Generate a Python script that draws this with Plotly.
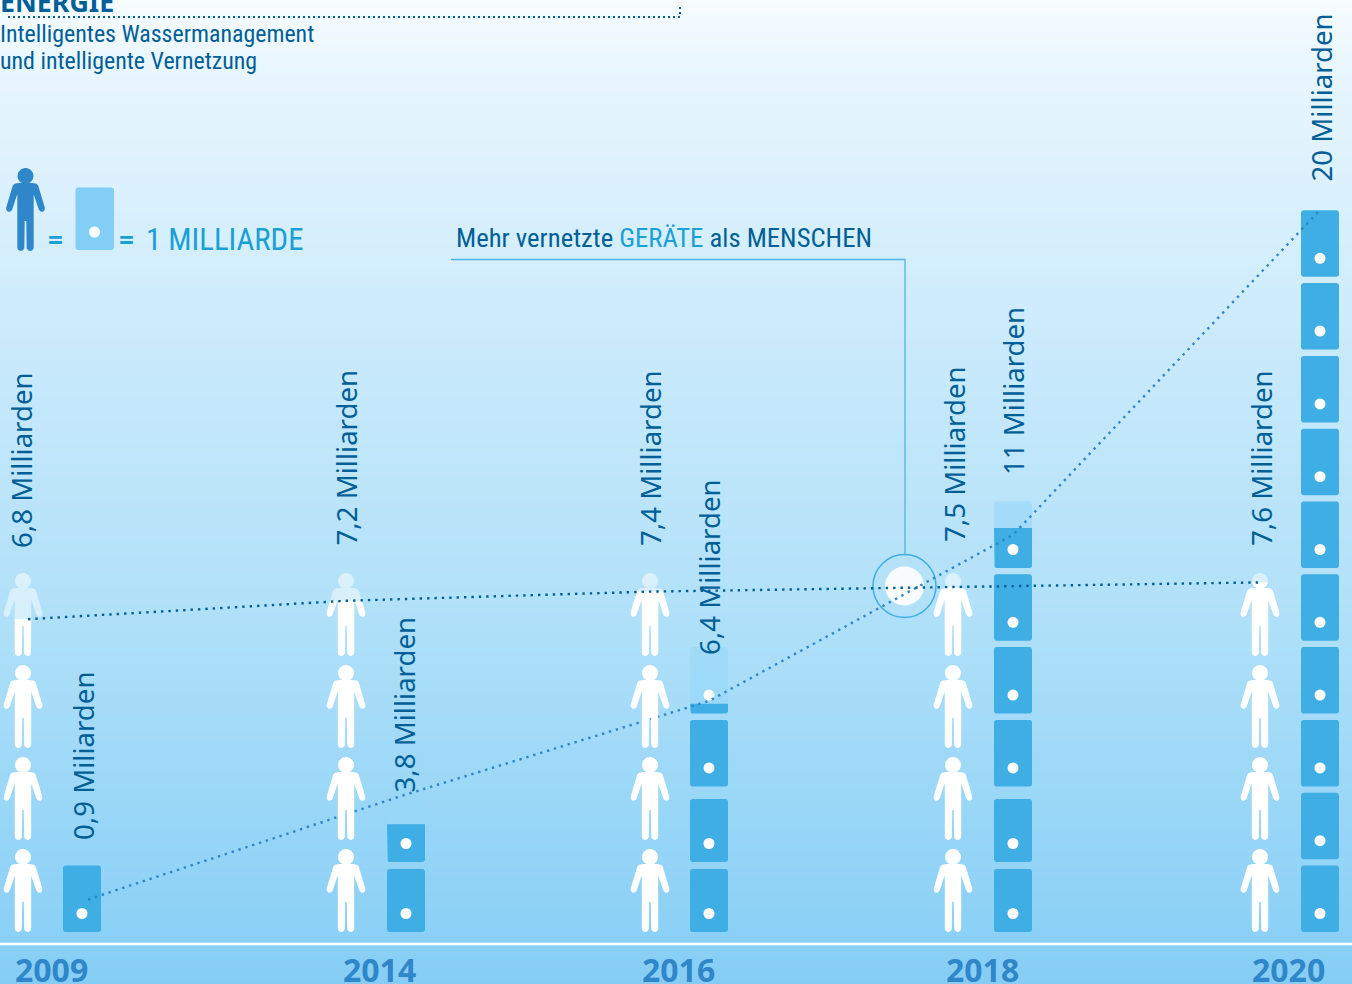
import math
import numpy as np
import plotly.graph_objects as go

# Data
years = ["2009", "2014", "2016", "2018", "2020"]
people_bn = [6.8, 7.2, 7.4, 7.5, 7.6]
devices_bn = [0.9, 3.8, 6.4, 11, 20]
people_labels = ["6,8 Milliarden", "7,2 Milliarden", "7,4 Milliarden", "7,5 Milliarden", "7,6 Milliarden"]
device_labels = ["0,9 Miliarden", "3,8 Milliarden", "6,4 Milliarden", "11 Milliarden", "20 Milliarden"]
top_icon_fill = [1.0, 0.6, 0.15, 0.6, 1.0]
compact_base = [False, True, True, True, False]

# Page geometry
W, H = 1352, 984
BASE = 932
PEOPLE_SCALE = 46.0
DEVICE_SCALE = 36.1
PERSON_PITCH = 92
DEVICE_PITCH = 72.8
PEOPLE_PER_COLUMN = 4
person_x = [23, 346, 650, 953, 1260]
device_x = [82, 406, 709, 1013, 1320]
people_line_x = [28, 346, 650, 953, 1260]
device_line_x = [88, 405, 709, 1013, 1320]
people_label_x = [21, 345.5, 650, 954, 1261]
people_label_bottom = [548, 546, 546, 542, 546]
device_label_x = [83, 403.5, 709, 1013, 1320.5]
device_label_bottom = [840, 793, 655, 475, 182]
year_x = [51, 379, 678, 982, 1288]

DARK = "#005f97"
MID = "#2f86c9"
CYAN = "#1a9fd6"
DEVICE = "#3eaee4"
FONT_WIDE = "Noto Sans"
FONT_NARROW = "Roboto Condensed"


def person_outline():
    """Body outline and head of the person icon, in px from the icon's top centre."""
    half = [(0, 15), (7, 15), (11, 15.8), (12.7, 17.5), (19.3, 39.5), (19.2, 42), (17.5, 43.7), (15, 43.5),
            (13.3, 41.5), (9.2, 29), (8.2, 26.5), (8.2, 79.5), (7.6, 81.5), (5.5, 83), (3, 82.5), (1.2, 80.5),
            (0.8, 53), (0, 53)]
    body = half + [(-x, y) for x, y in reversed(half)]
    head = [(8 * math.cos(a), 8 + 8 * math.sin(a)) for a in np.linspace(0, 2 * math.pi, 32)]
    return body, head


def clip_below(poly, limit):
    """Keep the part of a polygon whose height above the baseline is at most limit."""
    out = []
    for (ax, ay), (bx, by) in zip(poly, poly[1:] + poly[:1]):
        if ay <= limit:
            out.append((ax, ay))
        if (ay <= limit) != (by <= limit):
            t = (limit - ay) / (by - ay)
            out.append((ax + t * (bx - ax), limit))
    return out


def append_poly(xs, ys, poly, scale=1.0):
    for x, y in poly:
        xs.append(x)
        ys.append(y / scale)
    xs.append(poly[0][0])
    ys.append(poly[0][1] / scale)
    xs.append(None)
    ys.append(None)


def placed_person(cx, bottom):
    """Person polygons in (x, px above baseline)."""
    body, head = person_outline()
    return [[(cx + x, bottom + 83 - y) for x, y in part] for part in (body, head)]


def round_rect(x0, x1, y0, y1, r=2.5):
    pts = []
    corners = [(x1 - r, y1 - r, 0), (x0 + r, y1 - r, 90), (x0 + r, y0 + r, 180), (x1 - r, y0 + r, 270)]
    for cx, cy, start in corners:
        for a in np.linspace(start, start + 90, 5):
            pts.append((cx + r * math.cos(math.radians(a)), cy + r * math.sin(math.radians(a))))
    return pts


def device_spans(col):
    """Lower and upper edge of each device icon, in px above the baseline."""
    count = math.ceil(devices_bn[col] / 2)
    spans = []
    for i in range(count):
        if compact_base[col] and i < 2:
            low = i * 70
            spans.append((low, low + 63))
        else:
            low = i * DEVICE_PITCH
            spans.append((low, low + 66.5))
    return spans


fig = go.Figure()

# Background gradient on the pixel axis
grad_y = np.linspace(0, H, 124)
fig.add_trace(go.Heatmap(
    x=[0, W], y=grad_y, z=[[v, v] for v in grad_y], zmin=0, zmax=H, zsmooth="best",
    colorscale=[[0, "#f7fcff"], [0.07, "#e8f6fe"], [0.376, "#c7e9fb"], [0.61, "#b2e1f9"],
                [0.955, "#8ad0f6"], [1, "#86cdf5"]],
    showscale=False, hoverinfo="skip", xaxis="x", yaxis="y"))


def decor(**kw):
    fig.add_trace(go.Scatter(hoverinfo="skip", showlegend=False, xaxis="x", yaxis="y", **kw))


# Baseline band and rule
decor(x=[0, W], y=[944, 944], mode="lines", line=dict(color="white", width=2.5))

# Dotted header rule
decor(x=[8, 680, 680], y=[17, 17, 4], mode="lines", line=dict(color=DARK, width=2, dash="2px,3px"))

# Legend icons
lx, ly = [], []
for part in placed_person(25.5, 0):
    append_poly(lx, ly, [(x, 251 - y) for x, y in part])
decor(x=lx, y=ly, mode="lines", fill="toself", fillcolor=MID, line=dict(width=0))
rx, ry = [], []
append_poly(rx, ry, round_rect(75.5, 114, 187.5, 250))
decor(x=rx, y=ry, mode="lines", fill="toself", fillcolor="#82cef6", line=dict(width=0))
decor(x=[94.5], y=[232], mode="markers", marker=dict(color="white", size=11))

# Callout at the crossing of the two curves
decor(x=[904.5], y=[586], mode="markers", marker=dict(color="rgba(255,255,255,0.9)", size=39))
decor(x=[904.5], y=[586], mode="markers",
      marker=dict(color="rgba(0,0,0,0)", size=63, line=dict(color="#3eaee4", width=1.5)))
decor(x=[451, 905, 905], y=[259.5, 259.5, 554], mode="lines", line=dict(color="#4fb4e6", width=1.3))

# Device stacks
solid_x, solid_y, faded_x, faded_y, dot_x, dot_y = [], [], [], [], [], []
for col, cx in enumerate(device_x):
    spans = device_spans(col)
    for i, (low, high) in enumerate(spans):
        x0, x1 = cx - 19, cx + 19
        if i == len(spans) - 1 and top_icon_fill[col] < 1:
            split = low + (high - low) * top_icon_fill[col]
            append_poly(faded_x, faded_y, round_rect(x0, x1, low, high), DEVICE_SCALE)
            append_poly(solid_x, solid_y, clip_below(round_rect(x0, x1, low, high), split), DEVICE_SCALE)
        else:
            append_poly(solid_x, solid_y, round_rect(x0, x1, low, high), DEVICE_SCALE)
        dot_x.append(cx)
        dot_y.append((low + 18.5) / DEVICE_SCALE)

fig.add_trace(go.Scatter(x=faded_x, y=faded_y, mode="lines", fill="toself", fillcolor="rgba(150,215,248,0.6)",
                         line=dict(width=0), hoverinfo="skip", xaxis="x", yaxis="y2"))
fig.add_trace(go.Scatter(x=solid_x, y=solid_y, mode="lines", fill="toself", fillcolor=DEVICE,
                         line=dict(width=0), hoverinfo="skip", xaxis="x", yaxis="y2"))
fig.add_trace(go.Scatter(x=dot_x, y=dot_y, mode="markers", marker=dict(color="white", size=11),
                         hoverinfo="skip", xaxis="x", yaxis="y2"))
fig.add_trace(go.Scatter(x=device_line_x, y=devices_bn, mode="lines",
                         line=dict(color=MID, width=2.4, dash="2.4px,4.8px"),
                         hoverinfo="skip", xaxis="x", yaxis="y2"))

# People stacks: the top figure is solid only up to the stated population
pale_x, pale_y, white_x, white_y = [], [], [], []
for col, cx in enumerate(person_x):
    for i in range(PEOPLE_PER_COLUMN):
        parts = placed_person(cx, i * PERSON_PITCH)
        for part in parts:
            if i == PEOPLE_PER_COLUMN - 1:
                append_poly(pale_x, pale_y, part, PEOPLE_SCALE)
                clipped = clip_below(part, people_bn[col] * PEOPLE_SCALE)
                if clipped:
                    append_poly(white_x, white_y, clipped, PEOPLE_SCALE)
            else:
                append_poly(white_x, white_y, part, PEOPLE_SCALE)

fig.add_trace(go.Scatter(x=pale_x, y=pale_y, mode="lines", fill="toself", fillcolor="rgba(255,255,255,0.5)",
                         line=dict(width=0), hoverinfo="skip", xaxis="x", yaxis="y3"))
fig.add_trace(go.Scatter(x=white_x, y=white_y, mode="lines", fill="toself", fillcolor="white",
                         line=dict(width=0), hoverinfo="skip", xaxis="x", yaxis="y3"))
fig.add_trace(go.Scatter(x=people_line_x, y=people_bn, mode="lines",
                         line=dict(color=DARK, width=2.4, dash="2.4px,5px"),
                         hoverinfo="skip", xaxis="x", yaxis="y3"))

# Text
notes = []


def note(text, x, y, size, color=DARK, family=FONT_NARROW, xanchor="left", yanchor="middle", angle=0, bold=False):
    notes.append(dict(text=f"<b>{text}</b>" if bold else text, x=x, y=y, xref="x", yref="y", showarrow=False,
                      xanchor=xanchor, yanchor=yanchor, textangle=angle,
                      font=dict(size=size, color=color, family=family),
                      borderpad=0, borderwidth=0))


note("ENERGIE", 0, 1, 26.8, family=FONT_WIDE, bold=True)
note("Intelligentes Wassermanagement", 0, 34, 23.9)
note("und intelligente Vernetzung", 0, 61, 23.9)
note("=", 47.5, 240, 26, color=CYAN, family=FONT_WIDE, bold=True)
note("=", 118.5, 240, 26, color=CYAN, family=FONT_WIDE, bold=True)
note("1 MILLIARDE", 146, 239, 30.8, color=CYAN)
note(f'Mehr vernetzte <span style="color:{CYAN}">GERÄTE</span> als MENSCHEN', 456, 237.5, 26.7)

for x, bottom, text in zip(people_label_x, people_label_bottom, people_labels):
    note(text, x, bottom, 27.6, family=FONT_WIDE, xanchor="center", yanchor="bottom", angle=-90)
for x, bottom, text in zip(device_label_x, device_label_bottom, device_labels):
    note(text, x, bottom, 27.6, family=FONT_WIDE, xanchor="center", yanchor="bottom", angle=-90)
for x, year in zip(year_x, years):
    note(year, x, 969.5, 32, color=MID, family=FONT_WIDE, xanchor="center", bold=True)

hidden = dict(visible=False, showgrid=False, zeroline=False, fixedrange=True)
fig.update_layout(
    width=W, height=H, margin=dict(l=0, r=0, t=0, b=0), showlegend=False,
    plot_bgcolor="white", paper_bgcolor="white", annotations=notes,
    xaxis=dict(range=[0, W], **hidden),
    yaxis=dict(range=[H, 0], **hidden),
    yaxis2=dict(range=[(BASE - H) / DEVICE_SCALE, BASE / DEVICE_SCALE], overlaying="y", **hidden),
    yaxis3=dict(range=[(BASE - H) / PEOPLE_SCALE, BASE / PEOPLE_SCALE], overlaying="y", **hidden),
)

fig.write_html("out.html", config=dict(displayModeBar=False))
